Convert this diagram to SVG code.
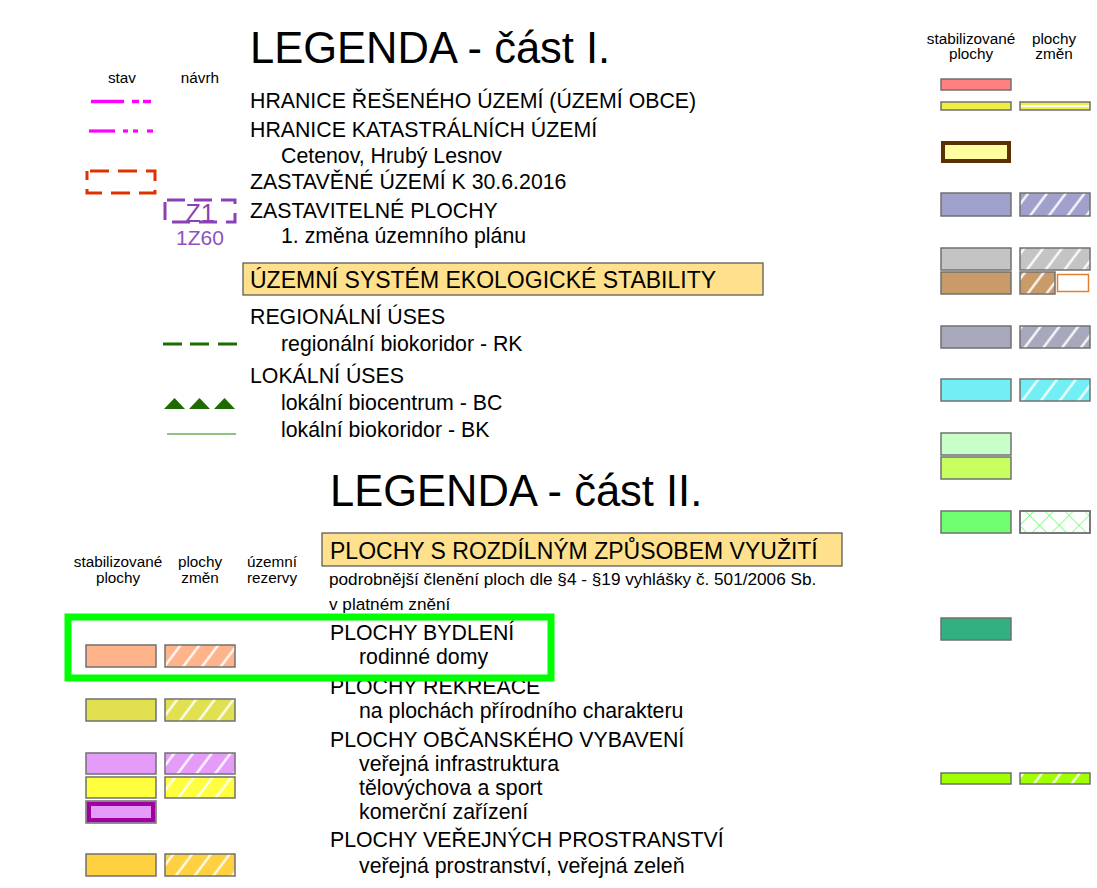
<svg xmlns="http://www.w3.org/2000/svg" width="1097" height="888" viewBox="0 0 1097 888">
<style>
text{font-family:"Liberation Sans",Arial,sans-serif;fill:#000}
.t{font-size:43.5px}
.b{font-size:21.3px}
.h{font-size:23px}
.s{font-size:15.3px}
.n{font-size:17.2px}
.c{text-anchor:middle}
.sw{stroke:#707070;stroke-width:1.5}
.hbox{fill:#FFE08C;stroke:#505050;stroke-width:1.2}
</style>
<defs>
<pattern id="hatch" width="15" height="10" patternUnits="userSpaceOnUse" patternTransform="rotate(37)">
<line x1="7.5" y1="-1" x2="7.5" y2="11" stroke="#fff" stroke-width="2.2"/>
</pattern>
<pattern id="cross" width="14" height="14" patternUnits="userSpaceOnUse" patternTransform="rotate(45)">
<line x1="0" y1="0" x2="0" y2="14" stroke="#66F066" stroke-width="1.3"/>
<line x1="0" y1="0" x2="14" y2="0" stroke="#66F066" stroke-width="1.3"/>
</pattern>
</defs>
<rect width="1097" height="888" fill="#fff"/>

<g id="part1-title">
<text class="t" x="250" y="63">LEGENDA - část I.</text>
</g>
<g id="part1-header">
<text class="s c" x="122" y="83">stav</text>
<text class="s c" x="200" y="83">návrh</text>
<text class="s c" x="971" y="44">stabilizované</text>
<text class="s c" x="971" y="59">plochy</text>
<text class="s c" x="1054" y="44">plochy</text>
<text class="s c" x="1054" y="59">změn</text>
</g>

<g id="hranice-reseneho">
<g stroke="#FF00FF" stroke-width="3.5">
<line x1="91" y1="101.5" x2="124" y2="101.5"/>
<line x1="132" y1="101.5" x2="139" y2="101.5"/>
<line x1="143" y1="101.5" x2="151" y2="101.5"/>
</g>
<text class="b" x="250" y="108">HRANICE ŘEŠENÉHO ÚZEMÍ (ÚZEMÍ OBCE)</text>
<rect class="sw" x="941" y="79" width="70" height="11" fill="#FF8080"/>
</g>

<g id="hranice-katastralnich">
<g stroke="#FF00FF" stroke-width="3.2">
<line x1="89" y1="131" x2="115" y2="131"/>
<line x1="123" y1="131" x2="128" y2="131"/>
<line x1="133" y1="131" x2="138" y2="131"/>
<line x1="147" y1="131" x2="153" y2="131"/>
</g>
<text class="b" x="250" y="137">HRANICE KATASTRÁLNÍCH ÚZEMÍ</text>
<text class="b" x="281" y="163">Cetenov, Hrubý Lesnov</text>
<rect class="sw" x="941" y="102" width="70" height="8" fill="#EEEE44"/>
<rect class="sw" x="1020" y="102" width="70" height="8" fill="#EEEE44"/>
<line x1="1021" y1="106" x2="1089" y2="106" stroke="#fff" stroke-width="2"/>
</g>

<g id="zastavene-uzemi">
<rect x="87" y="171" width="68" height="22" fill="none" stroke="#E03000" stroke-width="3" stroke-dasharray="19 9" stroke-dashoffset="-3"/>
<text class="b" x="250" y="189">ZASTAVĚNÉ ÚZEMÍ K 30.6.2016</text>
<rect x="943" y="143" width="66" height="18" fill="#FFFFA0" stroke="#5C3000" stroke-width="4"/>
</g>

<g id="zastavitelne-plochy">
<rect x="165" y="200" width="70" height="22" fill="none" stroke="#8B40B5" stroke-width="3" stroke-dasharray="18 9" stroke-dashoffset="-2"/>
<text x="200" y="222" font-size="25" class="c" style="fill:#8B40B5">Z1</text>
<text x="200" y="245" font-size="21" class="c" style="fill:#8E52C0">1Z60</text>
<text class="b" x="250" y="218">ZASTAVITELNÉ PLOCHY</text>
<text class="b" x="281" y="243">1. změna územního plánu</text>
<rect class="sw" x="941" y="193" width="70" height="23" fill="#A0A0CC"/>
<rect x="1020" y="193" width="70" height="23" fill="#A0A0CC"/>
<rect class="sw" x="1020" y="193" width="70" height="23" fill="url(#hatch)"/>
</g>

<g id="uses-heading">
<rect class="hbox" x="243" y="263" width="520" height="32"/>
<text class="h" x="250" y="288">ÚZEMNÍ SYSTÉM EKOLOGICKÉ STABILITY</text>
<rect x="941" y="248" width="70" height="22" class="sw" fill="#C4C4C4"/>
<rect x="1020" y="248" width="70" height="22" fill="#C4C4C4"/>
<rect x="1020" y="248" width="70" height="22" class="sw" fill="url(#hatch)"/>
<rect x="941" y="272" width="70" height="22" class="sw" fill="#C89B68"/>
<rect x="1020" y="272" width="35" height="22" fill="#C89B68"/>
<rect x="1020" y="272" width="35" height="22" class="sw" fill="url(#hatch)"/>
<rect x="1057.5" y="274.5" width="31" height="17" fill="#fff" stroke="#E08030" stroke-width="1.5"/>
</g>

<g id="regionalni-uses">
<g stroke="#186F00" stroke-width="3">
<line x1="163" y1="344" x2="182" y2="344"/>
<line x1="190" y1="344" x2="209" y2="344"/>
<line x1="218" y1="344" x2="237" y2="344"/>
</g>
<text class="b" x="250" y="324">REGIONÁLNÍ ÚSES</text>
<text class="b" x="281" y="351">regionální biokoridor - RK</text>
<rect x="941" y="326" width="70" height="22" class="sw" fill="#A8A8BC"/>
<rect x="1020" y="326" width="70" height="22" fill="#A8A8BC"/>
<rect x="1020" y="326" width="70" height="22" class="sw" fill="url(#hatch)"/>
</g>

<g id="lokalni-uses">
<g fill="#1B6B00">
<polygon points="164,409 174.5,398 185,409"/>
<polygon points="189,409 199.5,398 210,409"/>
<polygon points="214,409 224.5,398 235,409"/>
</g>
<line x1="167" y1="434" x2="236" y2="434" stroke="#6AAE5A" stroke-width="1.5"/>
<text class="b" x="250" y="383">LOKÁLNÍ ÚSES</text>
<text class="b" x="281" y="410">lokální biocentrum - BC</text>
<text class="b" x="281" y="437">lokální biokoridor - BK</text>
<rect x="941" y="379" width="70" height="22" class="sw" fill="#72EFF5"/>
<rect x="1020" y="379" width="70" height="22" fill="#72EFF5"/>
<rect x="1020" y="379" width="70" height="22" class="sw" fill="url(#hatch)"/>
<rect x="941" y="433" width="70" height="22" class="sw" fill="#C8FFC8"/>
<rect x="941" y="457" width="70" height="22" class="sw" fill="#C8FF60"/>
<rect x="941" y="511" width="70" height="22" class="sw" fill="#70FF70"/>
<rect x="1020" y="511" width="70" height="22" class="sw" fill="#fff"/>
<rect x="1020" y="511" width="70" height="22" class="sw" fill="url(#cross)"/>
<rect x="941" y="618" width="70" height="22" class="sw" fill="#33B080"/>
<rect x="941" y="773" width="70" height="11" class="sw" fill="#A0FF00"/>
<rect x="1020" y="773" width="70" height="11" fill="#A0FF00"/>
<rect x="1020" y="773" width="70" height="11" class="sw" fill="url(#hatch)"/>
</g>

<g id="part2-title">
<text class="t" x="330" y="506">LEGENDA - část II.</text>
</g>
<g id="part2-header">
<text class="s c" x="118" y="567">stabilizované</text>
<text class="s c" x="118" y="583">plochy</text>
<text class="s c" x="200" y="567">plochy</text>
<text class="s c" x="200" y="583">změn</text>
<text class="s c" x="272" y="567">územní</text>
<text class="s c" x="272" y="583">rezervy</text>
<rect class="hbox" x="322" y="533" width="520" height="33"/>
<text class="h" x="330" y="559">PLOCHY S ROZDÍLNÝM ZPŮSOBEM VYUŽITÍ</text>
<text class="n" x="329" y="585">podrobnější členění ploch dle §4 - §19 vyhlášky č. 501/2006 Sb.</text>
<text class="n" x="329" y="610">v platném znění</text>
</g>

<g id="plochy-bydleni">
<rect x="86" y="645" width="70" height="22" class="sw" fill="#FFB38A"/>
<rect x="165" y="645" width="70" height="22" fill="#FFB38A"/>
<rect x="165" y="645" width="70" height="22" class="sw" fill="url(#hatch)"/>
<text class="b" x="330" y="640">PLOCHY BYDLENÍ</text>
<text class="b" x="359" y="664">rodinné domy</text>
</g>

<g id="plochy-rekreace">
<rect x="86" y="699" width="70" height="22" class="sw" fill="#E0E050"/>
<rect x="165" y="699" width="70" height="22" fill="#E0E050"/>
<rect x="165" y="699" width="70" height="22" class="sw" fill="url(#hatch)"/>
<text class="b" x="330" y="694">PLOCHY REKREACE</text>
<text class="b" x="359" y="718">na plochách přírodního charakteru</text>
</g>

<g id="plochy-obcanskeho">
<rect x="86" y="753" width="70" height="21" class="sw" fill="#E59CF9"/>
<rect x="165" y="753" width="70" height="21" fill="#E59CF9"/>
<rect x="165" y="753" width="70" height="21" class="sw" fill="url(#hatch)"/>
<rect x="86" y="777" width="70" height="21" class="sw" fill="#FFFF40"/>
<rect x="165" y="777" width="70" height="21" fill="#FFFF40"/>
<rect x="165" y="777" width="70" height="21" class="sw" fill="url(#hatch)"/>
<rect x="86" y="801" width="70" height="22" class="sw" fill="#E59CF9"/>
<rect x="89" y="804" width="64" height="16" fill="none" stroke="#A000A0" stroke-width="4"/>
<text class="b" x="330" y="747">PLOCHY OBČANSKÉHO VYBAVENÍ</text>
<text class="b" x="359" y="771">veřejná infrastruktura</text>
<text class="b" x="359" y="795">tělovýchova a sport</text>
<text class="b" x="359" y="819">komerční zařízení</text>
</g>

<g id="plochy-verejnych">
<rect x="86" y="854" width="70" height="22" class="sw" fill="#FFD040"/>
<rect x="165" y="854" width="70" height="22" fill="#FFD040"/>
<rect x="165" y="854" width="70" height="22" class="sw" fill="url(#hatch)"/>
<text class="b" x="330" y="847">PLOCHY VEŘEJNÝCH PROSTRANSTVÍ</text>
<text class="b" x="359" y="873">veřejná prostranství, veřejná zeleň</text>
</g>

<g id="highlight">
<rect x="68" y="617" width="483" height="61" fill="none" stroke="#00FF00" stroke-width="7"/>
</g>
</svg>
